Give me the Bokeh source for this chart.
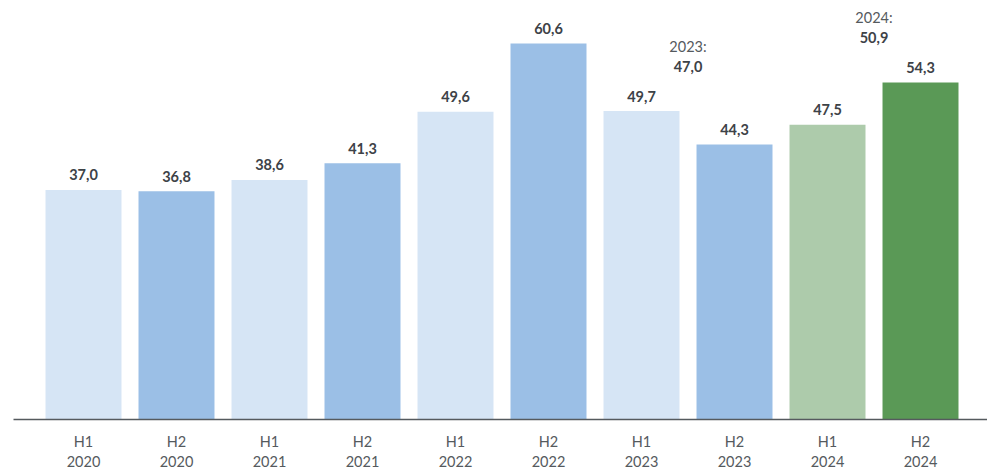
from bokeh.plotting import figure
from bokeh.models import ColumnDataSource, FixedTicker, Range1d
from bokeh.core.properties import value
from bokeh.embed import file_html
from bokeh.resources import INLINE

halves = ["H1", "H2", "H1", "H2", "H1", "H2", "H1", "H2", "H1", "H2"]
years = ["2020", "2020", "2021", "2021", "2022", "2022", "2023", "2023", "2024", "2024"]
values = [37.0, 36.8, 38.6, 41.3, 49.6, 60.6, 49.7, 44.3, 47.5, 54.3]
colors = ["#d6e5f5", "#9bbfe6", "#d6e5f5", "#9bbfe6", "#d6e5f5", "#9bbfe6",
          "#d6e5f5", "#9bbfe6", "#adcbab", "#5a9956"]

avg_years = ["2023", "2024"]
avg_values = [47.0, 50.9]

FONT = "Lato"
TEXT_DARK = "#3d4247"
TEXT_GRAY = "#555a5e"

xs = list(range(len(values)))
labels = [f"{v:.1f}".replace(".", ",") for v in values]
src = ColumnDataSource(dict(x=xs, top=values, color=colors, label=labels))

p = figure(width=987, height=472, output_backend="svg", toolbar_location=None,
           min_border_left=13, min_border_right=0, min_border_top=0, min_border_bottom=50)
p.x_range = Range1d(-0.7527, 9.7204)
p.y_range = Range1d(0, 419 / 6.205)

p.vbar(x="x", top="top", bottom=0, width=0.817, color="color", source=src, line_color=None)
p.text(x="x", y="top", text="label", source=src, text_align="center",
       text_baseline="alphabetic", y_offset=-15, text_font=value(FONT),
       text_font_style="bold", text_font_size="14.5px", text_color=TEXT_DARK)

# yearly averages, placed above the higher bar of each year
ax, ay, at, yt = [], [], [], []
for yr, av in zip(avg_years, avg_values):
    idx = [i for i, y in enumerate(years) if y == yr]
    ax.append(sum(idx) / len(idx))
    ay.append(max(values[i] for i in idx))
    at.append(f"{av:.1f}".replace(".", ","))
    yt.append(f"{yr}:")
asrc = ColumnDataSource(dict(x=ax, y=ay, val=at, yr=yt))
p.text(x="x", y="y", text="val", source=asrc, text_align="center",
       text_baseline="alphabetic", y_offset=-45, text_font=value(FONT),
       text_font_style="bold", text_font_size="14.5px", text_color=TEXT_DARK)
p.text(x="x", y="y", text="yr", source=asrc, text_align="center",
       text_baseline="alphabetic", y_offset=-65, text_font=value(FONT),
       text_font_size="14.5px", text_color=TEXT_GRAY)

p.xaxis.ticker = FixedTicker(ticks=xs)
p.xaxis.major_label_overrides = {i: f"{h}\n{y}" for i, (h, y) in enumerate(zip(halves, years))}
p.xaxis.major_tick_line_color = None
p.xaxis.minor_tick_line_color = None
p.xaxis.axis_line_color = "#555a5e"
p.xaxis.axis_line_width = 1.5
p.xaxis.major_label_text_font = FONT
p.xaxis.major_label_text_font_size = "14.5px"
p.xaxis.major_label_text_color = TEXT_GRAY
p.xaxis.major_label_standoff = 7
p.yaxis.visible = False
p.xgrid.grid_line_color = None
p.ygrid.grid_line_color = None
p.outline_line_color = None

open("out.html", "w").write(file_html(p, INLINE))
